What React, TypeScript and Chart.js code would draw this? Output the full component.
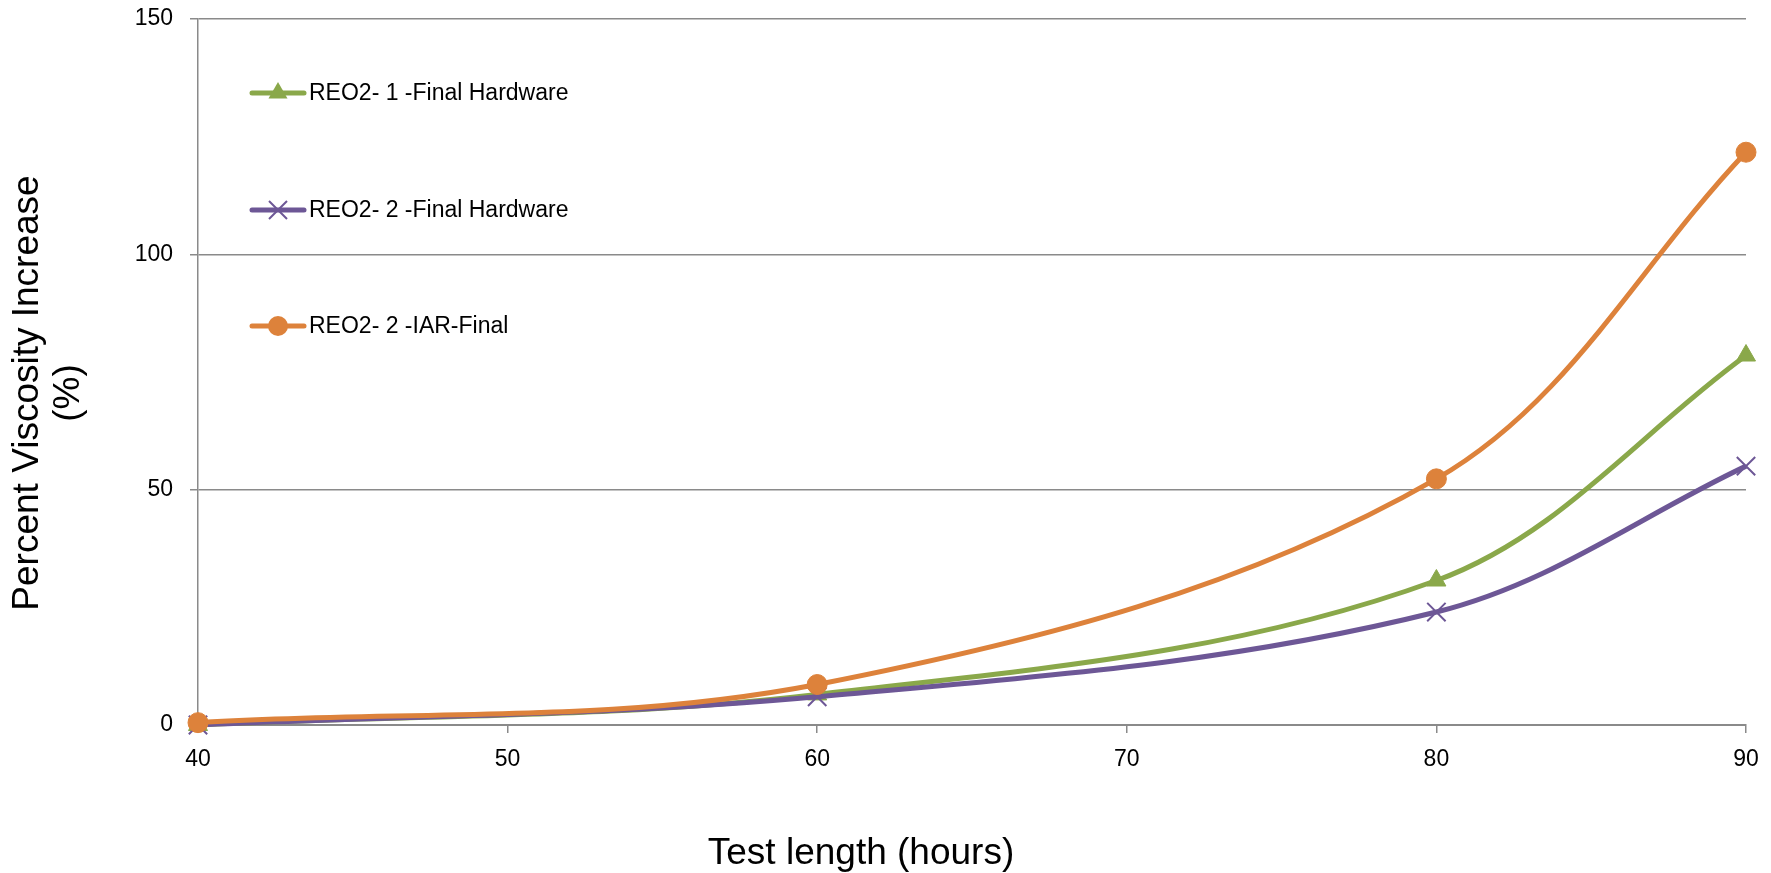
import React, { useEffect, useRef } from "react";
import { Chart, registerables } from "chart.js";

Chart.register(...registerables);

const hours = [40, 60, 80, 90];
const reo1Final = [0, 6.5, 30.7, 78.5];
const reo2Final = [0, 6, 24, 55];
const reo2IarFinal = [0.5, 8.6, 52.3, 121.7];
const yTicks = [0, 50, 100, 150];
const xTicks = [40, 50, 60, 70, 80, 90];

const seriesNames = ["REO2- 1 -Final Hardware", "REO2- 2 -Final Hardware", "REO2- 2 -IAR-Final"];
const GREEN = "#8aa84a";
const PURPLE = "#6d5796";
const ORANGE = "#dd823b";
const GRID = "#8a8a8a";
const FONT = "'Liberation Sans', Arial, sans-serif";

const overlayPlugin = {
  id: "overlay",
  afterDraw(chart: any) {
    const ctx = chart.ctx as CanvasRenderingContext2D;
    ctx.save();
    const entries = [
      { name: seriesNames[0], color: GREEN, shape: "triangle", y: 93 },
      { name: seriesNames[1], color: PURPLE, shape: "cross", y: 210 },
      { name: seriesNames[2], color: ORANGE, shape: "circle", y: 326 },
    ];
    for (const e of entries) {
      ctx.strokeStyle = e.color;
      ctx.lineWidth = 5;
      ctx.lineCap = "round";
      ctx.beginPath();
      ctx.moveTo(252, e.y);
      ctx.lineTo(304, e.y);
      ctx.stroke();
      const cx = 278;
      ctx.fillStyle = e.color;
      if (e.shape === "triangle") {
        const r = 11;
        ctx.beginPath();
        for (let i = 0; i < 3; i++) {
          const a = (i * 2 * Math.PI) / 3;
          const px = cx + Math.sin(a) * r;
          const py = e.y - Math.cos(a) * r;
          if (i === 0) ctx.moveTo(px, py);
          else ctx.lineTo(px, py);
        }
        ctx.closePath();
        ctx.fill();
      } else if (e.shape === "cross") {
        const d = 9;
        ctx.lineWidth = 2;
        ctx.lineCap = "butt";
        ctx.beginPath();
        ctx.moveTo(cx - d, e.y - d);
        ctx.lineTo(cx + d, e.y + d);
        ctx.moveTo(cx - d, e.y + d);
        ctx.lineTo(cx + d, e.y - d);
        ctx.stroke();
      } else {
        ctx.beginPath();
        ctx.arc(cx, e.y, 10, 0, Math.PI * 2);
        ctx.fill();
      }
      ctx.fillStyle = "#000";
      ctx.font = `23px ${FONT}`;
      ctx.textAlign = "left";
      ctx.textBaseline = "middle";
      ctx.fillText(e.name, 309, e.y + 1);
    }
    ctx.fillStyle = "#000";
    ctx.font = `37px ${FONT}`;
    ctx.textAlign = "center";
    ctx.textBaseline = "alphabetic";
    ctx.fillText("Test length (hours)", 861, 864);

    ctx.translate(0, 393);
    ctx.rotate(-Math.PI / 2);
    ctx.font = `37px ${FONT}`;
    ctx.fillText("Percent Viscosity Increase", 0, 38);
    ctx.fillText("(%)", 0, 79);
    ctx.restore();
  },
};

export default function App() {
  const ref = useRef<HTMLCanvasElement>(null);
  useEffect(() => {
    document.body.style.margin = "0";
    const mk = (x: number[], y: number[]) => x.map((v, i) => ({ x: v, y: y[i] }));
    const chart = new Chart(ref.current!, {
      type: "line",
      data: {
        datasets: [
          {
            label: seriesNames[0],
            data: mk(hours, reo1Final),
            borderColor: GREEN,
            backgroundColor: GREEN,
            borderWidth: 5,
            pointStyle: "triangle",
            pointRadius: 11,
            pointBorderWidth: 1,
            tension: 0.35,
            clip: false,
            order: 2,
          },
          {
            label: seriesNames[1],
            data: mk(hours, reo2Final),
            borderColor: PURPLE,
            backgroundColor: PURPLE,
            borderWidth: 5,
            pointStyle: "crossRot",
            pointRadius: 13,
            pointBorderWidth: 2,
            tension: 0.35,
            clip: false,
            order: 1,
          },
          {
            label: seriesNames[2],
            data: mk(hours, reo2IarFinal),
            borderColor: ORANGE,
            backgroundColor: ORANGE,
            borderWidth: 5,
            pointStyle: "circle",
            pointRadius: 10,
            pointBorderWidth: 1,
            tension: 0.35,
            clip: false,
            order: 0,
          },
        ],
      },
      options: {
        animation: false,
        responsive: false,
        maintainAspectRatio: false,
        layout: { padding: { left: 0, right: 25, top: 19, bottom: 0 } },
        plugins: {
          legend: { display: false },
          tooltip: { enabled: false },
          title: { display: false },
        },
        scales: {
          x: {
            type: "linear",
            min: 40,
            max: 90,
            afterFit: (s: any) => {
              s.height = 148;
              s.paddingLeft = 0;
              s.paddingRight = 0;
            },
            afterBuildTicks: (s: any) => {
              s.ticks = xTicks.map((v) => ({ value: v }));
            },
            ticks: {
              color: "#000",
              font: { family: FONT, size: 23 },
              padding: 13,
              maxRotation: 0,
              autoSkip: false,
            },
            grid: {
              drawOnChartArea: false,
              drawTicks: true,
              tickLength: 8,
              color: GRID,
              lineWidth: 1.5,
            },
            border: { display: true, color: GRID, width: 2 },
          },
          y: {
            type: "linear",
            min: 0,
            max: 150,
            afterFit: (s: any) => {
              s.width = 198;
              s.paddingTop = 0;
              s.paddingBottom = 0;
            },
            afterBuildTicks: (s: any) => {
              s.ticks = yTicks.map((v) => ({ value: v }));
            },
            ticks: {
              color: "#000",
              font: { family: FONT, size: 23 },
              padding: 17,
            },
            grid: {
              drawOnChartArea: true,
              drawTicks: true,
              tickLength: 8,
              color: GRID,
              lineWidth: 1.5,
            },
            border: { display: true, color: GRID, width: 1.5 },
          },
        },
      },
      plugins: [overlayPlugin],
    } as any);
    return () => chart.destroy();
  }, []);
  return (
    <div style={{ position: "absolute", left: 0, top: 0, width: 1771, height: 873 }}>
      <canvas ref={ref} width={1771} height={873} style={{ width: 1771, height: 873, display: "block" }} />
    </div>
  );
}
